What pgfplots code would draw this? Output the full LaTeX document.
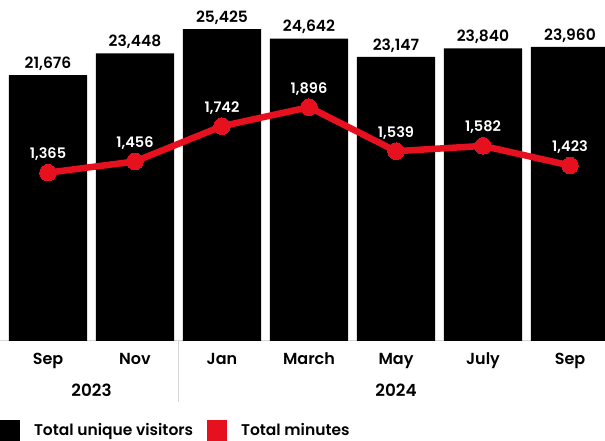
\documentclass[border=0pt]{standalone}
\usepackage{fontspec}
\setmainfont{Poppins}[UprightFont=* SemiBold]
\usepackage{pgfplots}
\pgfplotsset{compat=1.18}
\definecolor{cred}{RGB}{230,16,30}
\definecolor{cgray}{RGB}{215,215,215}
\begin{document}
\begin{tikzpicture}[x=1pt,y=1pt]
\useasboundingbox (0,0) rectangle (605,441);
\begin{axis}[
  at={(0pt,100pt)}, anchor=south west,
  scale only axis, width=605pt, height=341pt,
  xmin=-0.5517, xmax=6.4023, ymin=0, ymax=27790,
  axis x line=bottom, axis y line=none,
  x axis line style={draw=cgray, line width=1pt, -},
  xtick={0,...,6},
  xticklabels={Sep,Nov,Jan,March,May,July,Sep},
  major tick length=0pt,
  xticklabel style={font=\fontsize{16}{18}\selectfont, anchor=base, yshift=-24pt},
  clip mode=individual,
  /pgf/number format/assume math mode=true,
  /pgf/number format/1000 sep={,},
  nodes near coords,
  every node near coord/.append style={font=\fontsize{15.5}{17}\selectfont, text=black, anchor=base, yshift=6.7pt},
  legend columns=2,
  legend style={draw=none, fill=none, at={(0,-100/341)}, anchor=south west, inner sep=0pt, outer sep=0pt,
    font=\fontsize{15.5}{17}\selectfont,
    /tikz/every odd column/.style={column sep=12pt},
    /tikz/every even column/.style={column sep=12pt}},
  legend cell align=left,
  legend image code/.code={\fill[#1] (0pt,-10.5pt) rectangle (20pt,10.5pt);},
]
\addplot[ybar, bar width=0.8966, fill=black, draw=none] coordinates {
  (0,21676) (1,23448) (2,25425) (3,24642) (4,23147) (5,23840) (6,23960)
};
\addlegendentry{Total unique visitors}
\addlegendimage{fill=cred, draw=none}
\addlegendentry{Total minutes}
\draw[cgray, line width=1pt] (axis cs:1.5,0) -- ++(0pt,-61pt);
\node[anchor=base, font=\fontsize{16.8}{18}\selectfont] at (axis cs:0.5,0) [yshift=-55.5pt] {2023};
\node[anchor=base, font=\fontsize{16.8}{18}\selectfont] at (axis cs:4,0) [yshift=-55.5pt] {2024};
\end{axis}
\begin{axis}[
  at={(0pt,100pt)}, anchor=south west,
  scale only axis, width=605pt, height=341pt,
  xmin=-0.5517, xmax=6.4023, ymin=0, ymax=2765,
  hide axis,
  /pgf/number format/assume math mode=true,
  /pgf/number format/1000 sep={,},
  nodes near coords,
  every node near coord/.append style={font=\fontsize{14.5}{16}\selectfont, text=white, anchor=base, yshift=14pt},
]
\addplot[cred, line width=6.5pt, mark=*, mark size=8.3pt, mark options={line width=0pt, fill=cred}] coordinates {
  (0,1365) (1,1456) (2,1742) (3,1896) (4,1539) (5,1582) (6,1423)
};
\end{axis}
\end{tikzpicture}
\end{document}
